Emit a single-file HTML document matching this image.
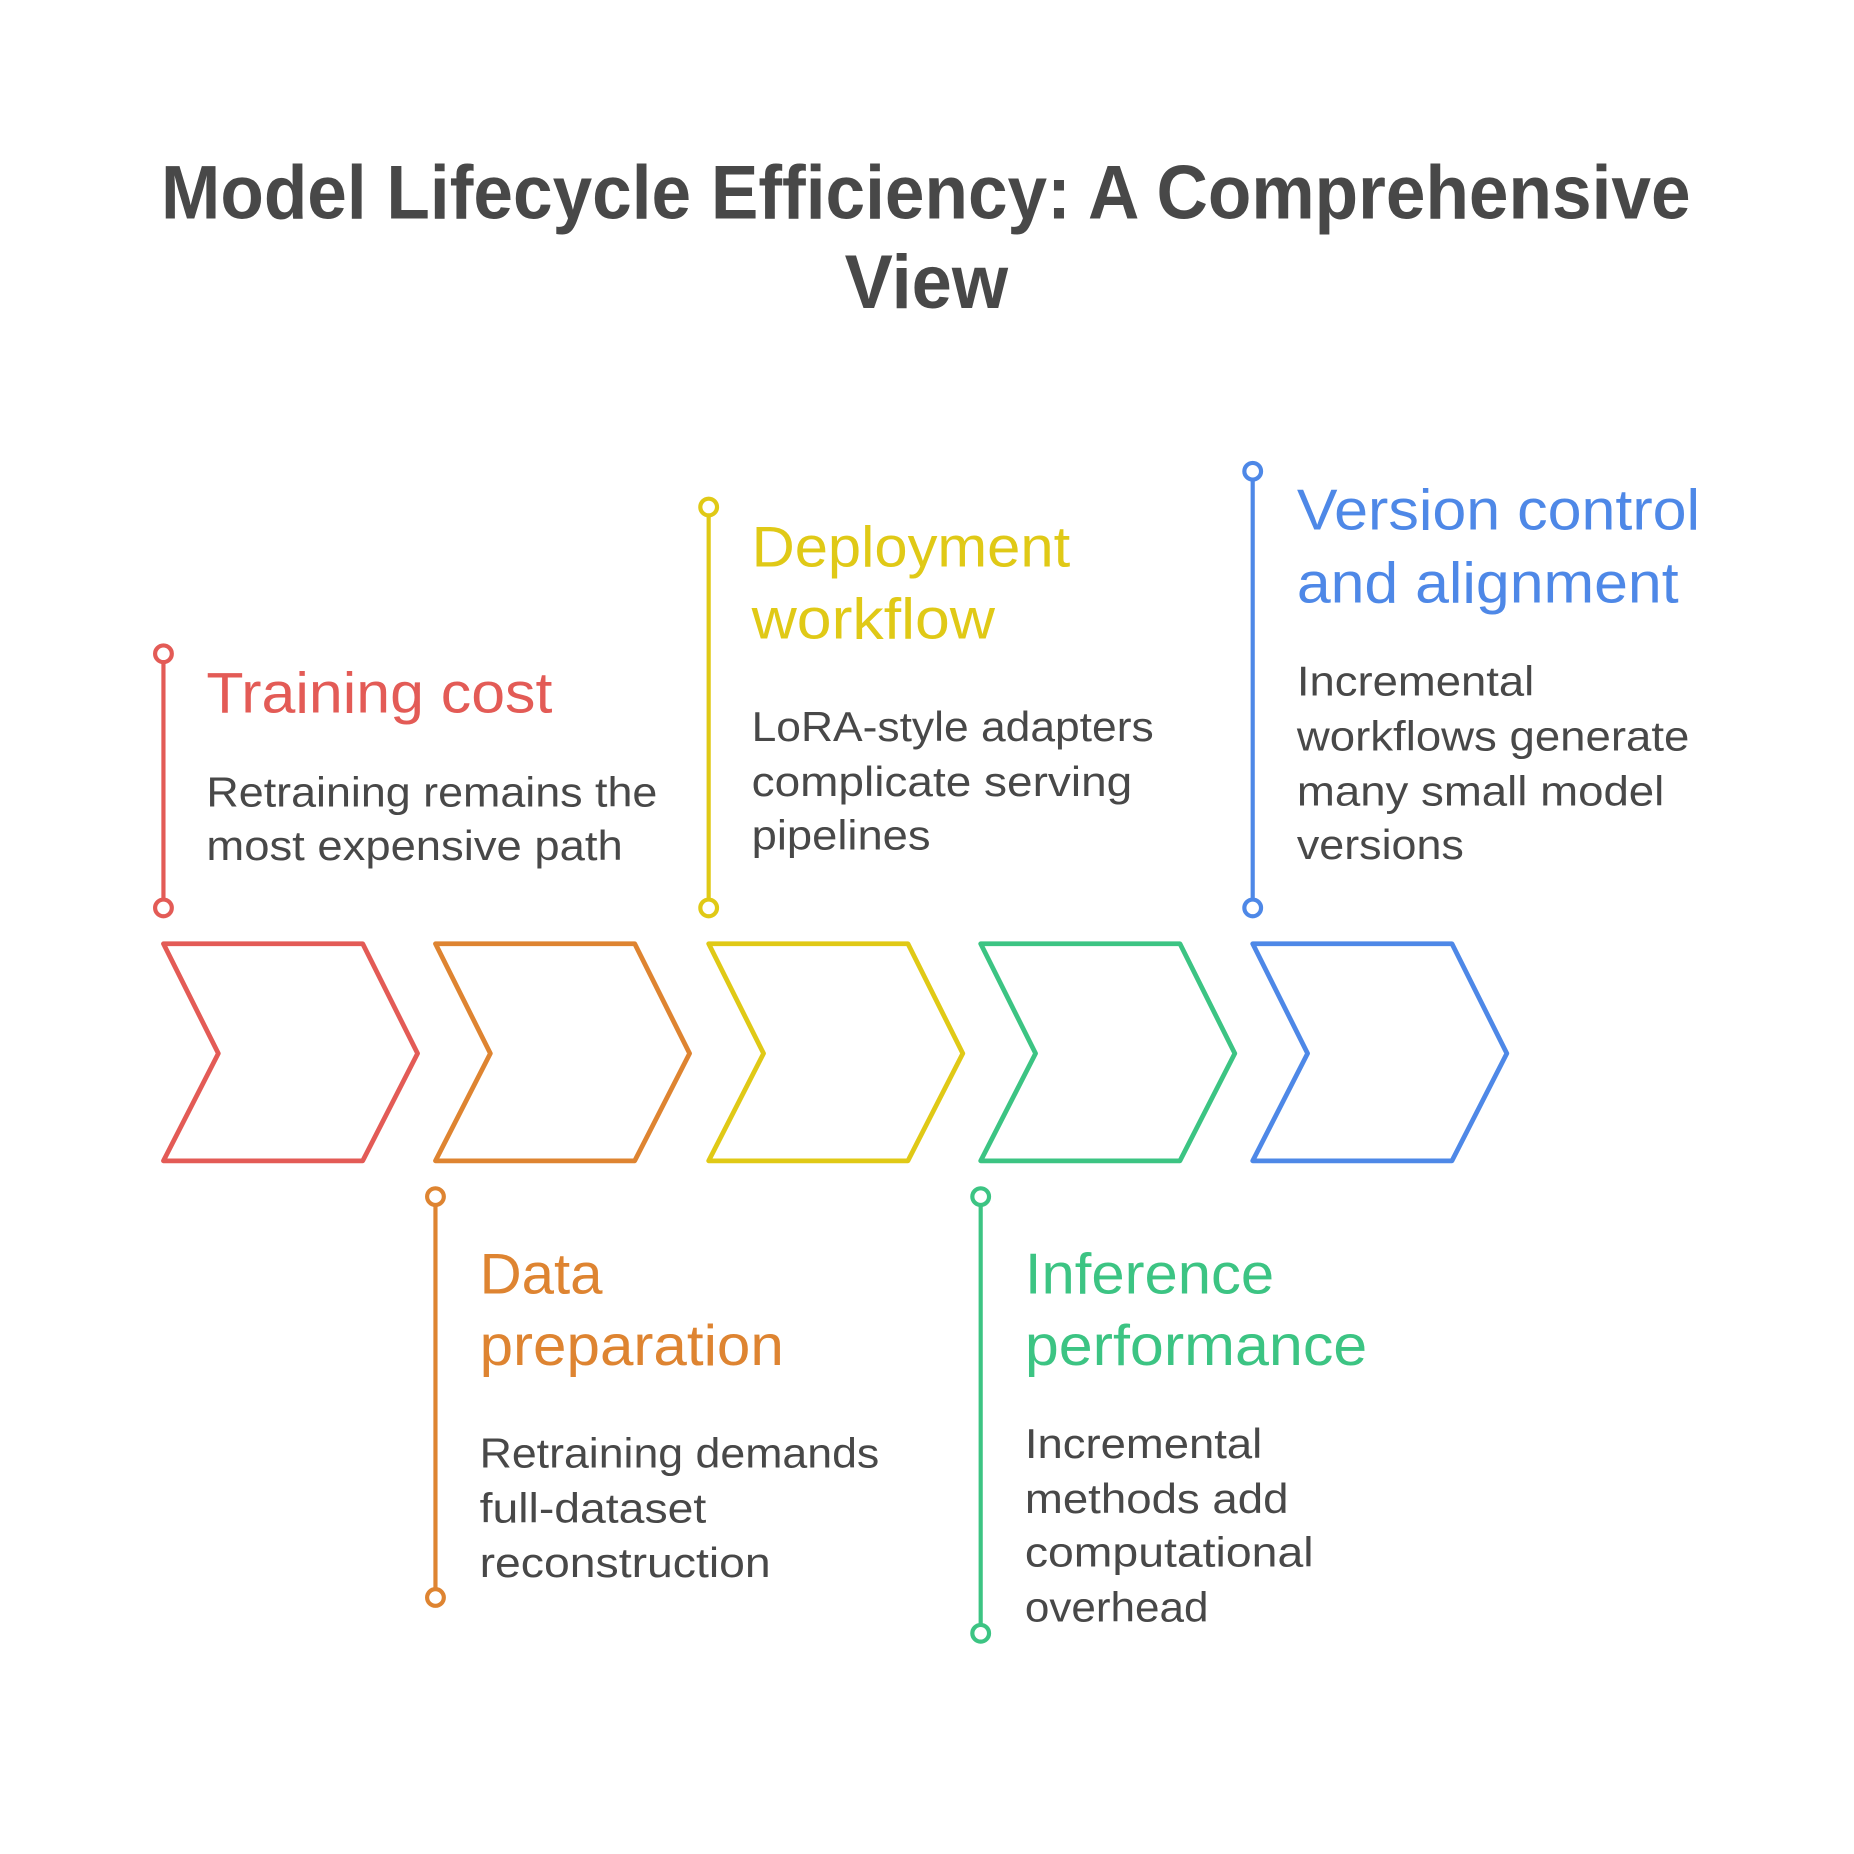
<!DOCTYPE html>
<html><head><meta charset="utf-8"><style>html,body{margin:0;padding:0;background:#fff}svg{display:block}</style></head>
<body>
<svg width="1854" height="1854" viewBox="0 0 1554 1554" xmlns="http://www.w3.org/2000/svg" font-family="'Liberation Sans', sans-serif">
<rect width="1554" height="1554" fill="#fff"/>
<g fill="#484848" font-weight="bold" font-size="64">
<text x="135" y="183" textLength="1282" lengthAdjust="spacingAndGlyphs">Model Lifecycle Efficiency: A Comprehensive</text>
<text x="708" y="258" textLength="137" lengthAdjust="spacingAndGlyphs">View</text>
</g>
<g fill="none" stroke-width="4" stroke-linejoin="round">
<path d="M137,791 H304 L350,883 L304,973 H137 L183,883 Z" stroke="#E35B56"/>
<path d="M365,791 H532 L578,883 L532,973 H365 L411,883 Z" stroke="#DE8431"/>
<path d="M594,791 H761 L807,883 L761,973 H594 L640,883 Z" stroke="#E0C916"/>
<path d="M822,791 H989 L1035,883 L989,973 H822 L868,883 Z" stroke="#3CC483"/>
<path d="M1050,791 H1217 L1263,883 L1217,973 H1050 L1096,883 Z" stroke="#4E88E7"/>
</g>
<g stroke-width="3.5" fill="#fff">
<line x1="137" y1="555" x2="137" y2="754" stroke="#E35B56"/>
<circle cx="137" cy="548" r="7" stroke="#E35B56"/><circle cx="137" cy="761" r="7" stroke="#E35B56"/>
<line x1="594" y1="432" x2="594" y2="754" stroke="#E0C916"/>
<circle cx="594" cy="425" r="7" stroke="#E0C916"/><circle cx="594" cy="761" r="7" stroke="#E0C916"/>
<line x1="1050" y1="402" x2="1050" y2="754" stroke="#4E88E7"/>
<circle cx="1050" cy="395" r="7" stroke="#4E88E7"/><circle cx="1050" cy="761" r="7" stroke="#4E88E7"/>
<line x1="365" y1="1010" x2="365" y2="1332" stroke="#DE8431"/>
<circle cx="365" cy="1003" r="7" stroke="#DE8431"/><circle cx="365" cy="1339" r="7" stroke="#DE8431"/>
<line x1="822" y1="1010" x2="822" y2="1362" stroke="#3CC483"/>
<circle cx="822" cy="1003" r="7" stroke="#3CC483"/><circle cx="822" cy="1369" r="7" stroke="#3CC483"/>
</g>
<g font-size="48">
<text x="173" y="597" fill="#E35B56" textLength="290" lengthAdjust="spacingAndGlyphs">Training cost</text>
<text x="630" y="475" fill="#E0C916" textLength="267" lengthAdjust="spacingAndGlyphs">Deployment</text>
<text x="630" y="535" fill="#E0C916" textLength="204" lengthAdjust="spacingAndGlyphs">workflow</text>
<text x="1087" y="444" fill="#4E88E7" textLength="338" lengthAdjust="spacingAndGlyphs">Version control</text>
<text x="1087" y="505" fill="#4E88E7" textLength="320" lengthAdjust="spacingAndGlyphs">and alignment</text>
<text x="402" y="1084" fill="#DE8431" textLength="103" lengthAdjust="spacingAndGlyphs">Data</text>
<text x="402" y="1144" fill="#DE8431" textLength="255" lengthAdjust="spacingAndGlyphs">preparation</text>
<text x="859" y="1084" fill="#3CC483" textLength="209" lengthAdjust="spacingAndGlyphs">Inference</text>
<text x="859" y="1144" fill="#3CC483" textLength="287" lengthAdjust="spacingAndGlyphs">performance</text>
</g>
<g font-size="35" fill="#484848">
<text x="173" y="676" textLength="378" lengthAdjust="spacingAndGlyphs">Retraining remains the</text>
<text x="173" y="721" textLength="349" lengthAdjust="spacingAndGlyphs">most expensive path</text>
<text x="630" y="621" textLength="337" lengthAdjust="spacingAndGlyphs">LoRA-style adapters</text>
<text x="630" y="667" textLength="319" lengthAdjust="spacingAndGlyphs">complicate serving</text>
<text x="630" y="712" textLength="150" lengthAdjust="spacingAndGlyphs">pipelines</text>
<text x="1087" y="583" textLength="199" lengthAdjust="spacingAndGlyphs">Incremental</text>
<text x="1087" y="629" textLength="329" lengthAdjust="spacingAndGlyphs">workflows generate</text>
<text x="1087" y="675" textLength="308" lengthAdjust="spacingAndGlyphs">many small model</text>
<text x="1087" y="720" textLength="140" lengthAdjust="spacingAndGlyphs">versions</text>
<text x="402" y="1230" textLength="335" lengthAdjust="spacingAndGlyphs">Retraining demands</text>
<text x="402" y="1276" textLength="190" lengthAdjust="spacingAndGlyphs">full-dataset</text>
<text x="402" y="1322" textLength="244" lengthAdjust="spacingAndGlyphs">reconstruction</text>
<text x="859" y="1222" textLength="199" lengthAdjust="spacingAndGlyphs">Incremental</text>
<text x="859" y="1268" textLength="221" lengthAdjust="spacingAndGlyphs">methods add</text>
<text x="859" y="1313" textLength="242" lengthAdjust="spacingAndGlyphs">computational</text>
<text x="859" y="1359" textLength="154" lengthAdjust="spacingAndGlyphs">overhead</text>
</g>
</svg>
</body></html>
